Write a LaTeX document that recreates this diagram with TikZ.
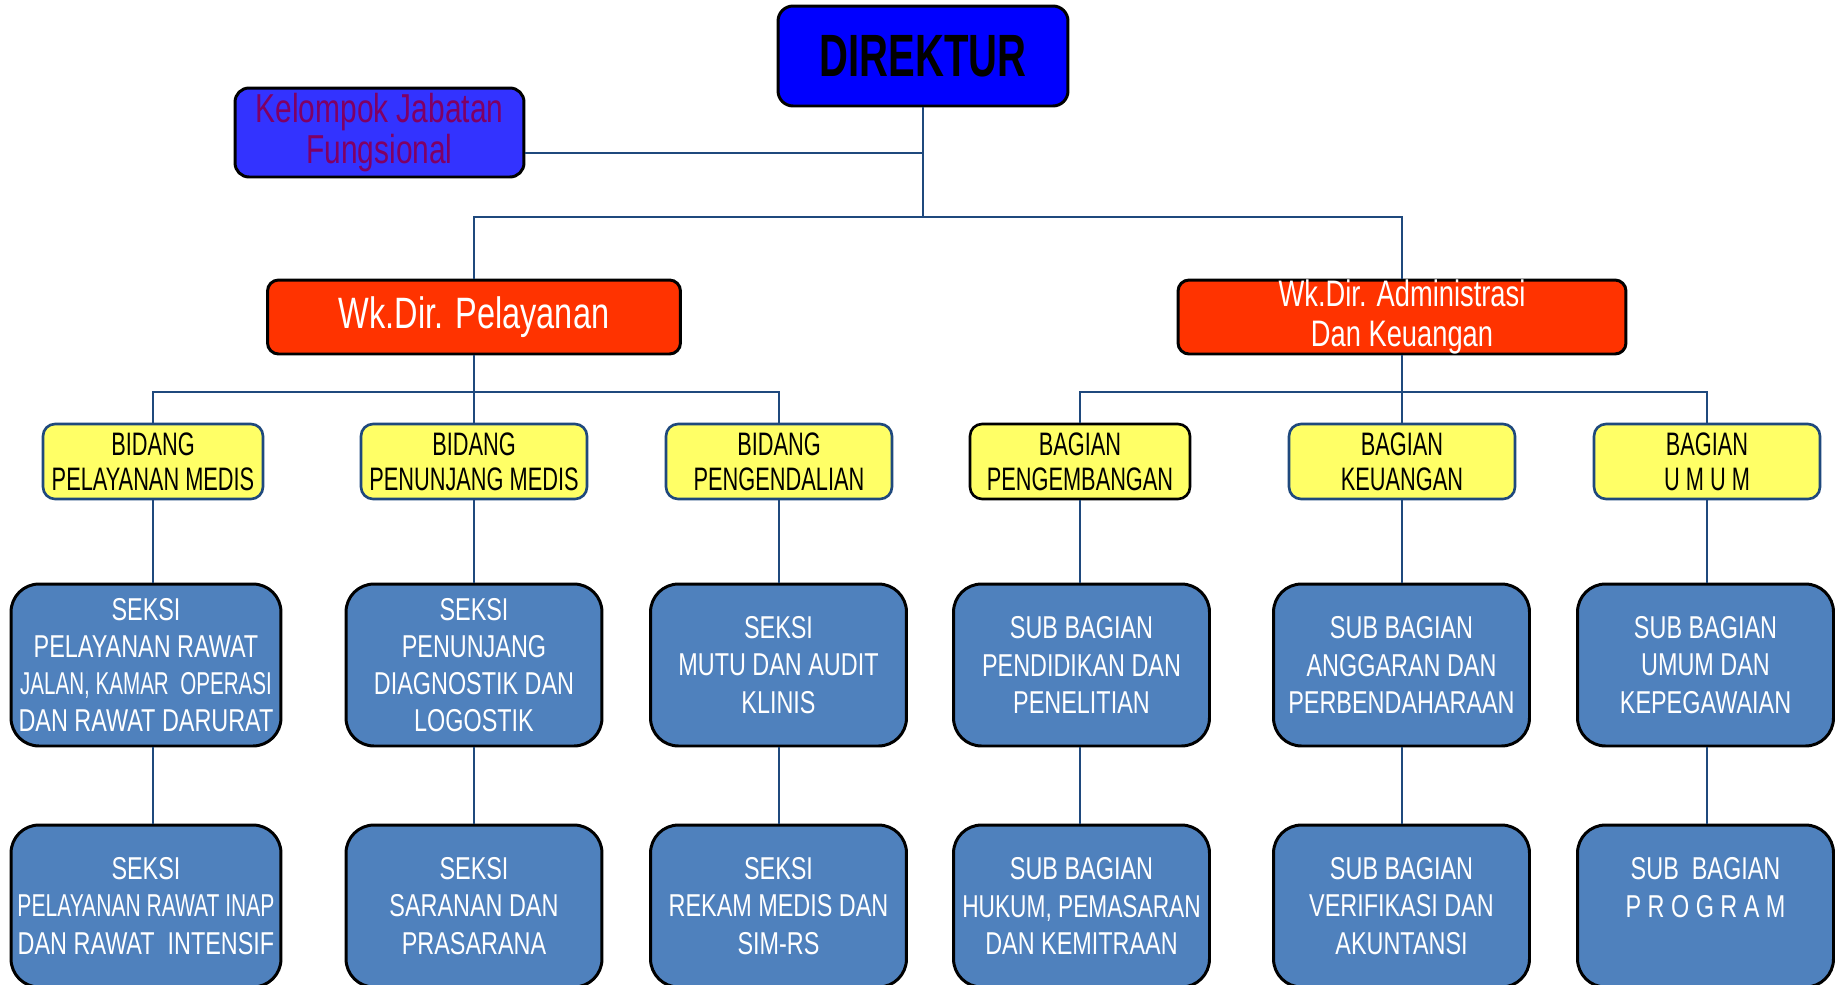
\documentclass[tikz,border=0pt]{standalone}
\usepackage{fontspec}
\setmainfont{Liberation Sans}
\newfontfamily\narrowfont[FakeStretch=0.67]{Liberation Sans}
\newfontfamily\midfont[FakeStretch=0.74]{Liberation Sans}
\definecolor{linkblue}{RGB}{31,73,125}
\definecolor{direkblue}{RGB}{0,0,255}
\definecolor{fungblue}{RGB}{51,51,255}
\definecolor{fungtext}{RGB}{128,0,100}
\definecolor{wkred}{RGB}{255,51,0}
\definecolor{bidyellow}{RGB}{255,255,102}
\definecolor{seksiblue}{RGB}{79,129,189}
\newcommand{\squeeze}[2]{\makebox[0pt]{\scalebox{#1}[1]{#2}}}
\begin{document}
\begin{tikzpicture}[x=0.02cm, y=-0.02cm,
		link/.style={draw=linkblue, line width=1.1pt},
		direk/.style={draw=black, line width=1.7pt, fill=direkblue, rounded corners=0.3cm,
			minimum width=5.8cm, minimum height=2cm, inner sep=0pt,
			font=\narrowfont\bfseries\fontsize{34}{40}\selectfont},
		fung/.style={draw=black, line width=1.7pt, fill=fungblue, rounded corners=0.28cm,
			minimum width=5.78cm, minimum height=1.78cm, inner sep=0pt, align=center, text=fungtext,
			font=\midfont\fontsize{23}{23.5}\selectfont},
		wakil/.style={draw=black, line width=1.7pt, fill=wkred, rounded corners=0.22cm,
			minimum height=1.48cm, inner sep=0pt, align=center, text=white},
		bidang/.style={draw=linkblue, line width=1.5pt, fill=bidyellow, rounded corners=0.24cm,
			minimum width=4.52cm, minimum height=1.5cm, inner sep=0pt, align=center,
			font=\narrowfont\fontsize{18.5}{19.8}\selectfont},
		seksi/.style={draw=black, line width=1.7pt, fill=seksiblue, rounded corners=0.56cm,
			minimum width=5.12cm, minimum height=3.24cm, inner sep=0pt, align=center, text=white,
			font=\midfont\fontsize{18}{21.2}\selectfont}
	]
	\path[use as bounding box, fill=white] (0,0) rectangle (1841,984);

	% pimpinan
	\node[direk] (dir) at (923,56) {DIREKTUR};
	\node[fung] (kjf) at (379.5,132.5) {Kelompok Jabatan\\Fungsional};
	\node[wakil, minimum width=8.26cm, font=\midfont\fontsize{25}{28}\selectfont] (wkp) at (474,317) {Wk.Dir. Pelayanan};
	\node[wakil, minimum width=8.96cm, font=\midfont\fontsize{21}{22.5}\selectfont] (wka) at (1402,317) {Wk.Dir. Administrasi\\Dan Keuangan};

	% bidang dan bagian
	\node[bidang, minimum width=4.4cm] (pm) at (153,461.5) {BIDANG\\PELAYANAN MEDIS};
	\node[bidang] (pj) at (474,461.5) {BIDANG\\PENUNJANG MEDIS};
	\node[bidang] (pd) at (779,461.5) {BIDANG\\PENGENDALIAN};
	\node[bidang, draw=black, minimum width=4.4cm] (bp) at (1080,461.5) {BAGIAN\\PENGEMBANGAN};
	\node[bidang] (bk) at (1402,461.5) {BAGIAN\\KEUANGAN};
	\node[bidang] (bu) at (1707,461.5) {BAGIAN\\U M U M};

	% seksi dan sub bagian
	\node[seksi, minimum width=5.4cm] (pm1) at (146,665) {SEKSI\\PELAYANAN RAWAT\\\squeeze{0.88}{JALAN, KAMAR~ OPERASI}\\DAN RAWAT DARURAT};
	\node[seksi] (pj1) at (474,665) {SEKSI\\PENUNJANG\\DIAGNOSTIK DAN\\LOGOSTIK};
	\node[seksi] (pd1) at (778.5,665) {SEKSI\\MUTU DAN AUDIT\\KLINIS};
	\node[seksi] (bp1) at (1081.5,665) {SUB BAGIAN\\PENDIDIKAN DAN\\PENELITIAN};
	\node[seksi] (bk1) at (1401.5,665) {SUB BAGIAN\\ANGGARAN DAN\\PERBENDAHARAAN};
	\node[seksi] (bu1) at (1705.5,665) {SUB BAGIAN\\UMUM DAN\\KEPEGAWAIAN};

	\node[seksi, minimum width=5.4cm] (pm2) at (146,906) {SEKSI\\\squeeze{0.9}{PELAYANAN RAWAT INAP}\\DAN RAWAT~ INTENSIF};
	\node[seksi] (pj2) at (474,906) {SEKSI\\SARANAN DAN\\PRASARANA};
	\node[seksi] (pd2) at (778.5,906) {SEKSI\\REKAM MEDIS DAN\\SIM-RS};
	\node[seksi] (bp2) at (1081.5,906) {SUB BAGIAN\\\squeeze{0.97}{HUKUM, PEMASARAN}\\DAN KEMITRAAN};
	\node[seksi] (bk2) at (1401.5,906) {SUB BAGIAN\\VERIFIKASI DAN\\AKUNTANSI};
	\node[seksi] (bu2) at (1705.5,906) {SUB~ BAGIAN\\P R O G R A M\\\mbox{}};

	% garis
	\coordinate (jtop) at (923,217);
	\coordinate (jkjf) at (923,153);
	\coordinate (jpel) at (474,392);
	\coordinate (jadm) at (1402,392);
	\draw[link] (dir.south) -- (jtop);
	\draw[link] (kjf.east |- jkjf) -- (jkjf);
	\draw[link] (wkp.north) |- (jtop) -| (wka.north);
	\draw[link] (wkp.south) -- (jpel);
	\draw[link] (pm.north) |- (jpel) -| (pd.north);
	\draw[link] (pj.north) -- (jpel);
	\draw[link] (wka.south) -- (jadm);
	\draw[link] (bp.north) |- (jadm) -| (bu.north);
	\draw[link] (bk.north) -- (jadm);

	\draw[link] (pm.south) -- (pm.south |- pm1.north);
	\draw[link] (pm.south |- pm1.south) -- (pm.south |- pm2.north);
	\draw[link] (pj.south) -- (pj.south |- pj1.north);
	\draw[link] (pj.south |- pj1.south) -- (pj.south |- pj2.north);
	\draw[link] (pd.south) -- (pd.south |- pd1.north);
	\draw[link] (pd.south |- pd1.south) -- (pd.south |- pd2.north);
	\draw[link] (bp.south) -- (bp.south |- bp1.north);
	\draw[link] (bp.south |- bp1.south) -- (bp.south |- bp2.north);
	\draw[link] (bk.south) -- (bk.south |- bk1.north);
	\draw[link] (bk.south |- bk1.south) -- (bk.south |- bk2.north);
	\draw[link] (bu.south) -- (bu.south |- bu1.north);
	\draw[link] (bu.south |- bu1.south) -- (bu.south |- bu2.north);
\end{tikzpicture}
\end{document}
